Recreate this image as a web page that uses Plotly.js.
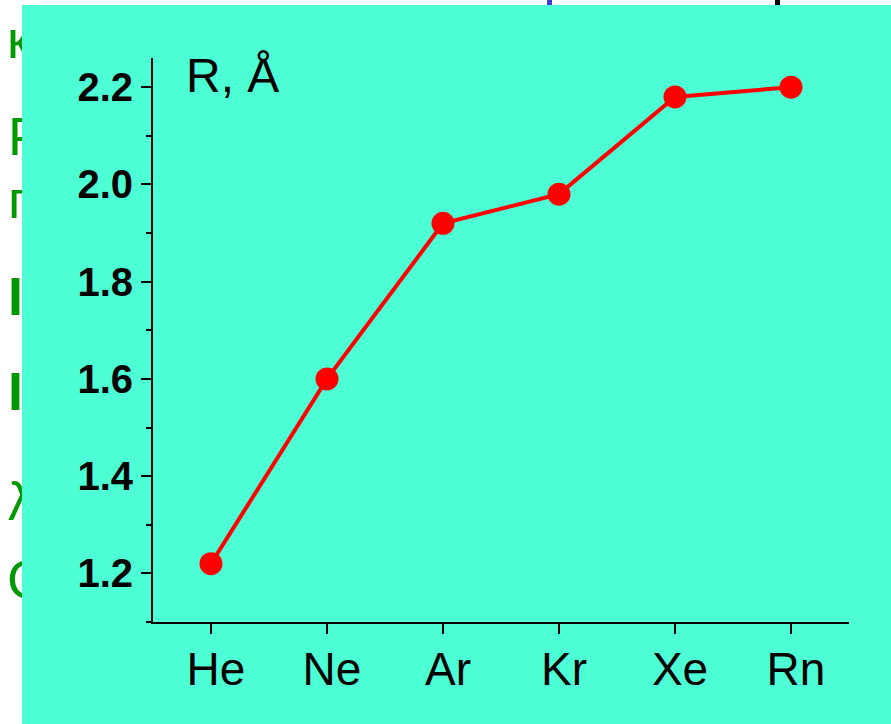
<!DOCTYPE html>
<html>
<head>
<meta charset="utf-8">
<script src="https://cdn.plot.ly/plotly-3.0.1.min.js"></script>
<style>
  html, body { margin: 0; padding: 0; background: #ffffff; width: 891px; height: 724px; overflow: hidden; }
  #bg { position: absolute; left: 0; top: 0; width: 891px; height: 724px; }
  #chart { position: absolute; left: 22px; top: 5px; width: 869px; height: 719px; }
</style>
</head>
<body>
<svg id="bg" width="891" height="724" xmlns="http://www.w3.org/2000/svg">
  <g font-family="Liberation Sans, Arial, sans-serif" font-size="54" fill="#009900">
    <text x="7" y="58">к</text>
    <text x="8" y="155">Р</text>
    <text x="8" y="218">п</text>
    <text x="8" y="315" font-weight="bold">I</text>
    <text x="8" y="410" font-weight="bold">I</text>
    <text x="8" y="520">λ</text>
    <text x="7" y="598">С</text>
  </g>
  <rect x="547" y="0" width="5" height="6" fill="#3b3bd6"/>
  <rect x="775" y="0" width="5" height="6" fill="#000000"/>
</svg>
<div id="chart"></div>
<script>
const elements = ["He", "Ne", "Ar", "Kr", "Xe", "Rn"];
const radiusA = [1.22, 1.60, 1.92, 1.98, 2.18, 2.20];
const yTickVals = [1.2, 1.4, 1.6, 1.8, 2.0, 2.2];
const yTickText = ["1.2", "1.4", "1.6", "1.8", "2.0", "2.2"];
const yLabel = "R, Å";

const trace = {
  x: elements.map((_, i) => i),
  y: radiusA,
  type: "scatter",
  mode: "lines+markers",
  line: { color: "#ff0000", width: 4 },
  marker: { color: "#ff0000", size: 23 },
  hoverinfo: "skip",
  cliponaxis: false
};

const layout = {
  width: 869,
  height: 719,
  margin: { l: 131, r: 42, t: 53, b: 102, pad: 0 },
  paper_bgcolor: "#4cffd4",
  plot_bgcolor: "rgba(0,0,0,0)",
  showlegend: false,
  font: { family: "Liberation Sans, Arial, sans-serif", color: "#000000" },
  xaxis: {
    range: [-0.5, 5.5],
    tickvals: elements.map((_, i) => i),
    ticktext: elements,
    showgrid: false,
    zeroline: false,
    showline: true,
    linecolor: "#000000",
    linewidth: 2,
    ticks: "outside",
    ticklen: 10,
    tickwidth: 2,
    tickcolor: "#000000",
    ticklabelshift: 5,
    ticklabelstandoff: -4,
    tickfont: { size: 46, family: "Liberation Sans, Arial, sans-serif", color: "#000000" },
    fixedrange: true
  },
  yaxis: {
    range: [1.1, 2.26],
    tickvals: yTickVals,
    ticktext: yTickText,
    showgrid: false,
    zeroline: false,
    showline: true,
    linecolor: "#000000",
    linewidth: 2,
    ticks: "outside",
    ticklen: 10,
    tickwidth: 2,
    tickcolor: "#000000",
    minor: { dtick: 0.1, tick0: 1.1, ticks: "outside", ticklen: 5, tickwidth: 2, tickcolor: "#000000", showgrid: false },
    tickfont: { size: 40, weight: 700, family: "Liberation Sans, Arial, sans-serif", color: "#000000" },
    fixedrange: true
  },
  shapes: [
    { type: "line", xref: "paper", yref: "paper", x0: -0.008, x1: 0, y0: 0, y1: 0,
      line: { color: "#000000", width: 2 } }
  ],
  annotations: [
    { text: yLabel, xref: "paper", yref: "paper", x: 0.045, y: 0.969,
      xanchor: "left", yanchor: "middle", showarrow: false,
      font: { size: 48, family: "Liberation Sans, Arial, sans-serif", color: "#000000" } }
  ]
};

Plotly.newPlot("chart", [trace], layout, { staticPlot: true, displayModeBar: false });
</script>
</body>
</html>
